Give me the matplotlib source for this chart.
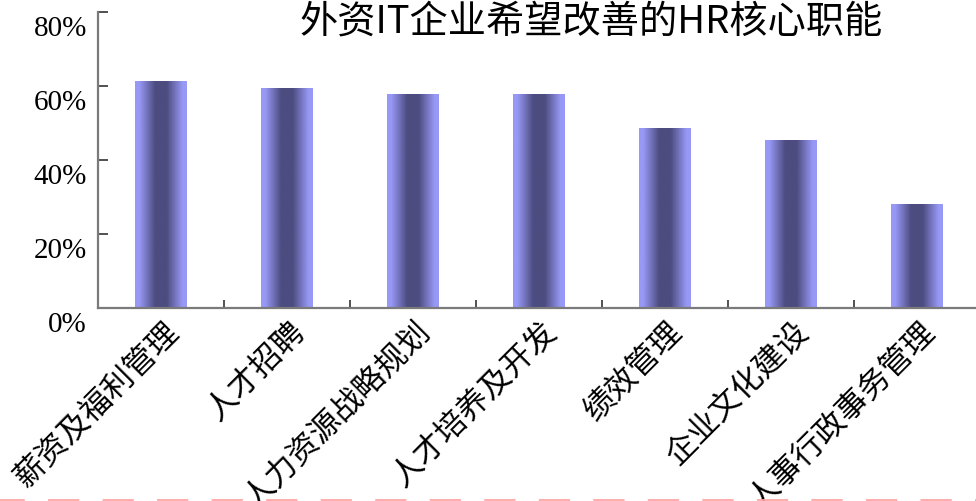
import numpy as np
import matplotlib
matplotlib.use("Agg")
import matplotlib.pyplot as plt
import matplotlib.transforms as mtransforms
from matplotlib.lines import Line2D

# ---- data ----
categories = ["薪资及福利管理", "人才招聘", "人力资源战略规划", "人才培养及开发",
              "绩效管理", "企业文化建设", "人事行政事务管理"]
values = [0.611, 0.592, 0.578, 0.578, 0.484, 0.454, 0.281]
yticks = [0.0, 0.2, 0.4, 0.6, 0.8]
ytick_labels = ["0%", "20%", "40%", "60%", "80%"]
title = "外资IT企业希望改善的HR核心职能"

W, H = 976, 501
fig = plt.figure(figsize=(W / 100, H / 100), dpi=100)
fig.patch.set_facecolor("white")

ax_left, ax_right, ax_top, ax_bottom = 98, 980, 12, 308
ax = fig.add_axes([ax_left / W, (H - ax_bottom) / H,
                   (ax_right - ax_left) / W, (ax_bottom - ax_top) / H])

x = np.arange(len(categories))
bars = ax.bar(x, values, width=0.405, color="none", edgecolor="none")

# gradient: light at edges, dark in the middle
light = np.array([0x98, 0x98, 0xF6]) / 255
dark = np.array([0x4C, 0x4C, 0x80]) / 255
t = np.linspace(0, 1, 200)
d = np.abs(t - 0.5) * 2
s = np.clip((d - 0.22) / 0.62, 0, 1)
grad = (dark[None, :] * (1 - s[:, None]) + light[None, :] * s[:, None])[None, :, :]
for p in bars.patches:
    x0, y0 = p.get_x(), p.get_y()
    ax.imshow(grad, extent=[x0, x0 + p.get_width(), y0, y0 + p.get_height()],
              aspect="auto", interpolation="bilinear", zorder=2)

ax.set_xlim(-0.5, len(categories) - 0.5)
ax.set_ylim(0, 0.8)

for side in ["top", "right"]:
    ax.spines[side].set_visible(False)
for side in ["left", "bottom"]:
    ax.spines[side].set_color("#7a7a7a")
    ax.spines[side].set_linewidth(1.6)

# y ticks
ax.set_yticks(yticks)
ax.set_yticklabels(ytick_labels, fontsize=21, family=["Liberation Serif"])
ax.tick_params(axis="y", direction="in", length=7, width=1.2, color="#333333", pad=8)
yoff = mtransforms.ScaledTranslation(0, -14 / 100, fig.dpi_scale_trans)
for lab in ax.get_yticklabels():
    lab.set_transform(lab.get_transform() + yoff)

# x ticks at category boundaries (minor), labels at centers
ax.set_xticks(x)
ax.set_xticks(np.arange(-0.5, len(categories), 1.0), minor=True)
ax.tick_params(axis="x", which="major", length=0, pad=0)
ax.tick_params(axis="x", which="minor", direction="in", length=6, width=1.2, color="#333333")
ax.set_xticklabels(categories, fontsize=22.5, family=["Noto Sans CJK SC"],
                   rotation=45, rotation_mode="anchor", ha="right", va="center")
xoff = mtransforms.ScaledTranslation(13 / 100, -19 / 100, fig.dpi_scale_trans)
for lab in ax.get_xticklabels():
    lab.set_transform(lab.get_transform() + xoff)

# title
fig.text(591 / W, (H - 22) / H, title, fontsize=27.5, family=["Noto Sans CJK SC"],
         ha="center", va="center", color="black")

# dashed pink line at bottom
ln = Line2D([0, 1], [0.8 / H, 0.8 / H], transform=fig.transFigure,
            color="#FFA6A6", lw=1.3, linestyle=(3.6, (17.3, 12.9)))
fig.add_artist(ln)

fig.savefig("out.png", dpi=100)
